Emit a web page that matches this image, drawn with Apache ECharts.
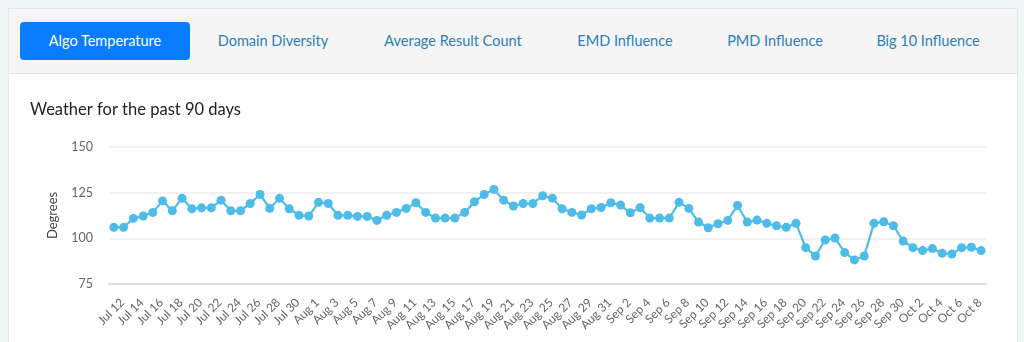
<!DOCTYPE html>
<html>
<head>
<meta charset="utf-8">
<script src="https://cdn.jsdelivr.net/npm/echarts@6/dist/echarts.min.js"></script>
<style>
  html, body { margin: 0; padding: 0; width: 1024px; height: 342px; overflow: hidden; background: #eef6f6; font-family: Lato, "Open Sans", sans-serif; }
  #card { position: absolute; left: 8px; top: 8px; width: 1010px; height: 340px; background: #fff; border: 1px solid #e3e8e8; box-sizing: border-box; }
  #tabs { position: absolute; left: 0; top: 0; width: 100%; height: 65px; background: #f5f5f5; border-bottom: 1px solid #e4e4e4; box-sizing: border-box; }
  .tab { position: absolute; top: 13px; height: 38px; line-height: 37px; font-size: 14.5px; color: #2c7fb8; text-align: center; transform: translateX(-50%); white-space: nowrap; }
  .tab.active { background: #0a7cff; color: #fff; border-radius: 4px; width: 170px; }
  #chart { position: absolute; left: 9px; top: 74px; width: 1009px; height: 268px; }
</style>
</head>
<body>
<div id="card">
  <div id="tabs"></div>
</div>
<div id="chart"></div>
<script>
const tabNames = ["Algo Temperature", "Domain Diversity", "Average Result Count", "EMD Influence", "PMD Influence", "Big 10 Influence"];
const tabCenters = [96, 264, 444, 616, 766, 919];

const categories = ["Jul 12","Jul 13","Jul 14","Jul 15","Jul 16","Jul 17","Jul 18","Jul 19","Jul 20","Jul 21","Jul 22","Jul 23","Jul 24","Jul 25","Jul 26","Jul 27","Jul 28","Jul 29","Jul 30","Jul 31",
"Aug 1","Aug 2","Aug 3","Aug 4","Aug 5","Aug 6","Aug 7","Aug 8","Aug 9","Aug 10","Aug 11","Aug 12","Aug 13","Aug 14","Aug 15","Aug 16","Aug 17","Aug 18","Aug 19","Aug 20","Aug 21","Aug 22","Aug 23","Aug 24","Aug 25","Aug 26","Aug 27","Aug 28","Aug 29","Aug 30","Aug 31",
"Sep 1","Sep 2","Sep 3","Sep 4","Sep 5","Sep 6","Sep 7","Sep 8","Sep 9","Sep 10","Sep 11","Sep 12","Sep 13","Sep 14","Sep 15","Sep 16","Sep 17","Sep 18","Sep 19","Sep 20","Sep 21","Sep 22","Sep 23","Sep 24","Sep 25","Sep 26","Sep 27","Sep 28","Sep 29","Sep 30",
"Oct 1","Oct 2","Oct 3","Oct 4","Oct 5","Oct 6","Oct 7","Oct 8","Oct 9"];

const temperatures = [106.0, 106.0, 110.9, 112.2, 114.2, 120.5, 115.1, 121.9, 116.2, 116.7, 116.7, 120.9, 115.1, 115.1, 119.1, 124.0, 116.4, 121.9, 116.2, 112.6,
112.2, 119.7, 119.1, 112.6, 112.6, 112.0, 112.0, 109.8, 112.6, 114.2,
116.4, 119.5, 114.2, 111.1, 111.1, 111.1, 114.2, 120.0, 124.0, 126.8, 120.9, 117.7, 119.1, 119.1, 123.3, 122.0, 116.2, 114.2, 112.8, 116.2, 116.9,
119.5, 118.2, 114.0, 116.8, 111.1, 111.1, 111.1, 119.7, 116.4,
108.9, 105.8, 108.0, 109.8, 118.0, 108.9, 110.0, 108.2, 106.9, 106.0, 108.2, 94.9, 90.3, 99.1, 100.2, 92.2, 88.2, 90.3, 108.2, 109.1, 106.9,
98.5, 94.9, 93.3, 94.4, 91.8, 91.4, 94.9, 95.1, 93.3];

const yTicks = [75, 100, 125, 150];

const tabs = document.getElementById('tabs');
tabNames.forEach((n, i) => {
  const d = document.createElement('div');
  d.className = 'tab' + (i === 0 ? ' active' : '');
  d.style.left = tabCenters[i] + 'px';
  d.textContent = n;
  tabs.appendChild(d);
});

const chart = echarts.init(document.getElementById('chart'), null, { renderer: 'canvas' });
chart.setOption({
  animation: false,
  title: {
    text: 'Weather for the past 90 days',
    left: 21, top: 27, padding: 0,
    textStyle: { fontFamily: 'Lato', fontSize: 16.5, fontWeight: 'normal', color: '#222' }
  },
  grid: { left: 100, right: 32, top: 73, height: 137 },
  xAxis: {
    type: 'category',
    data: categories,
    boundaryGap: true,
    axisLine: { lineStyle: { color: '#d8deec', width: 2 } },
    axisTick: { show: false },
    axisLabel: { interval: 1, rotate: 45, fontFamily: 'Lato', fontSize: 12, color: '#666', margin: 8,
                 verticalAlign: 'top', padding: [6, 0, 0, 0] }
  },
  yAxis: {
    type: 'value',
    min: yTicks[0], max: yTicks[yTicks.length - 1], interval: 25,
    name: 'Degrees',
    nameLocation: 'middle',
    nameGap: 50,
    nameTextStyle: { fontFamily: 'Lato', fontSize: 13, color: '#444' },
    axisLine: { show: false },
    axisTick: { show: false },
    splitLine: { lineStyle: { color: '#ececec', width: 1.5 } },
    axisLabel: { fontFamily: 'Lato', fontSize: 12.5, color: '#666', margin: 16 }
  },
  series: [{
    type: 'line',
    data: temperatures,
    symbol: 'circle',
    symbolSize: 9,
    showSymbol: true,
    showAllSymbol: true,
    lineStyle: { color: '#4dbce9', width: 2.2 },
    itemStyle: { color: '#4dbce9' }
  }]
});
</script>
</body>
</html>
